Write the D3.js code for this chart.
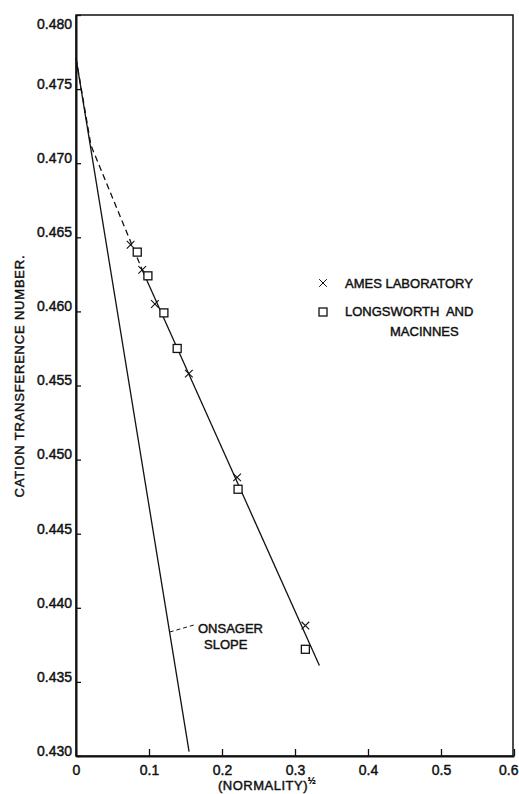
<!DOCTYPE html>
<html>
<head>
<meta charset="utf-8">
<script src="https://cdn.jsdelivr.net/npm/d3@7"></script>
<style>
  body { margin: 0; background: #fff; }
  text { font-family: "Liberation Sans", Arial, sans-serif; fill: #111; stroke: #111; stroke-width: 0.45px; }
</style>
</head>
<body>
<script>
// tick values and labels
const xTicks = [0, 0.1, 0.2, 0.3, 0.4, 0.5, 0.6];
const xTickLabels = ["0", "0.1", "0.2", "0.3", "0.4", "0.5", "0.6"];
const yTicks = [0.430, 0.435, 0.440, 0.445, 0.450, 0.455, 0.460, 0.465, 0.470, 0.475, 0.480];
const yTickLabels = ["0.430", "0.435", "0.440", "0.445", "0.450", "0.455", "0.460", "0.465", "0.470", "0.475", "0.480"];

// Ames Laboratory (crosses)
const amesX = [0.0748, 0.0907, 0.1081, 0.1546, 0.2207, 0.3142];
const amesY = [0.4645, 0.4628, 0.4605, 0.4558, 0.4488, 0.4388];

// Longsworth and MacInnes (squares)
const longX = [0.0839, 0.0985, 0.1204, 0.1386, 0.2220, 0.3142];
const longY = [0.4640, 0.4624, 0.4599, 0.4575, 0.4480, 0.4372];

// drawn curve: dashed extrapolation, then solid through the data
const dashX = [0, 0.0205, 0.0907];
const dashY = [0.4771, 0.4712, 0.4628];
const solidX = [0.0907, 0.3334];
const solidY = [0.4628, 0.4361];

// Onsager limiting slope
const onsX = [0, 0.1549];
const onsY = [0.4771, 0.4303];

const W = 519, H = 794;
const margin = { top: 15, right: 5, bottom: 38, left: 76 };

const x = d3.scaleLinear().domain([0, 0.6]).range([margin.left, W - margin.right]);
const y = d3.scaleLinear().domain([0.430, 0.480]).range([H - margin.bottom, margin.top]);

const svg = d3.select("body").append("svg")
  .attr("width", W)
  .attr("height", H);

const zip = (xs, ys) => xs.map((v, i) => [v, ys[i]]);
const line = d3.line().x(d => x(d[0])).y(d => y(d[1]));

// frame
svg.append("rect")
  .attr("x", x(0)).attr("y", y(0.480))
  .attr("width", x(0.6) - x(0) - 1)
  .attr("height", y(0.430) - y(0.480))
  .attr("fill", "none").attr("stroke", "#111").attr("stroke-width", 1.5);

// axes with inward ticks
const xAxis = svg.append("g")
  .attr("transform", "translate(0," + y(0.430) + ")")
  .call(d3.axisBottom(x).tickValues(xTicks).tickSizeInner(-7).tickSizeOuter(0)
    .tickFormat((d, i) => xTickLabels[i]));
xAxis.select(".domain").attr("stroke", "#111").attr("stroke-width", 2);
xAxis.selectAll(".tick line").attr("stroke", "#111").attr("stroke-width", 1.3);
xAxis.selectAll(".tick text")
  .attr("y", 9).attr("dy", "0.71em")
  .attr("text-anchor", (d, i) => i === xTicks.length - 1 ? "end" : "middle")
  .attr("x", (d, i) => i === xTicks.length - 1 ? 4 : 0)
  .style("font-size", "14px").style("font-family", "Liberation Sans, Arial, sans-serif")
  .attr("fill", "#111");

const yAxis = svg.append("g")
  .attr("transform", "translate(" + x(0) + ",0)")
  .call(d3.axisLeft(y).tickValues(yTicks).tickSizeInner(-5).tickSizeOuter(0)
    .tickFormat((d, i) => yTickLabels[i]));
yAxis.select(".domain").attr("stroke", "#111").attr("stroke-width", 2);
yAxis.selectAll(".tick line").attr("stroke", "#111").attr("stroke-width", 1.3);
yAxis.selectAll(".tick text")
  .attr("x", -4)
  .attr("dy", (d, i) => i === yTicks.length - 1 ? "0.95em" : "-0.05em")
  .style("font-size", "14px").style("font-family", "Liberation Sans, Arial, sans-serif")
  .attr("fill", "#111");

// axis titles
svg.append("text")
  .attr("transform", "translate(24,376) rotate(-90)")
  .attr("text-anchor", "middle")
  .style("font-size", "13px")
  .style("letter-spacing", "0.8px")
  .text("CATION TRANSFERENCE NUMBER.");

const xl = svg.append("text")
  .attr("x", 267).attr("y", 790)
  .attr("text-anchor", "middle")
  .style("font-size", "13px")
  .style("letter-spacing", "0.5px");
xl.append("tspan").text("(NORMALITY)");
xl.append("tspan").attr("dy", -6).style("font-size", "9px").text("½");

// curves
svg.append("path")
  .datum(zip(onsX, onsY))
  .attr("d", line)
  .attr("fill", "none").attr("stroke", "#111").attr("stroke-width", 1.3);

svg.append("path")
  .datum(zip(dashX, dashY))
  .attr("d", line)
  .attr("fill", "none").attr("stroke", "#111").attr("stroke-width", 1.3)
  .attr("stroke-dasharray", "6,4");

svg.append("path")
  .datum(zip(solidX, solidY))
  .attr("d", line)
  .attr("fill", "none").attr("stroke", "#111").attr("stroke-width", 1.3);

// markers
const cross = d3.symbol().type(d3.symbolX).size(40);
svg.append("g").selectAll("path")
  .data(zip(amesX, amesY))
  .join("path")
  .attr("transform", d => "translate(" + x(d[0]) + "," + y(d[1]) + ")")
  .attr("d", cross)
  .attr("fill", "none").attr("stroke", "#111").attr("stroke-width", 1.1);

svg.append("g").selectAll("rect")
  .data(zip(longX, longY))
  .join("rect")
  .attr("x", d => x(d[0]) - 4).attr("y", d => y(d[1]) - 4)
  .attr("width", 8).attr("height", 8)
  .attr("fill", "#fff").attr("stroke", "#111").attr("stroke-width", 1.3);

// legend
const lg = svg.append("g");
lg.append("path")
  .attr("transform", "translate(323,283)")
  .attr("d", cross)
  .attr("fill", "none").attr("stroke", "#111").attr("stroke-width", 1);
lg.append("text").attr("x", 345).attr("y", 288).style("font-size", "13px").text("AMES LABORATORY");
lg.append("rect")
  .attr("x", 319).attr("y", 308).attr("width", 8).attr("height", 8)
  .attr("fill", "#fff").attr("stroke", "#111").attr("stroke-width", 1.3);
lg.append("text").attr("x", 345).attr("y", 316).style("font-size", "13px")
  .attr("xml:space", "preserve").text("LONGSWORTH  AND");
lg.append("text").attr("x", 390).attr("y", 336).style("font-size", "13px").text("MACINNES");

// Onsager annotation
svg.append("line")
  .attr("x1", x(0.1283)).attr("y1", 632)
  .attr("x2", 194).attr("y2", 625)
  .attr("stroke", "#111").attr("stroke-width", 1).attr("stroke-dasharray", "4,3");
svg.append("text").attr("x", 198).attr("y", 633).style("font-size", "13px").text("ONSAGER");
svg.append("text").attr("x", 204).attr("y", 649).style("font-size", "13px").text("SLOPE");
</script>
</body>
</html>
